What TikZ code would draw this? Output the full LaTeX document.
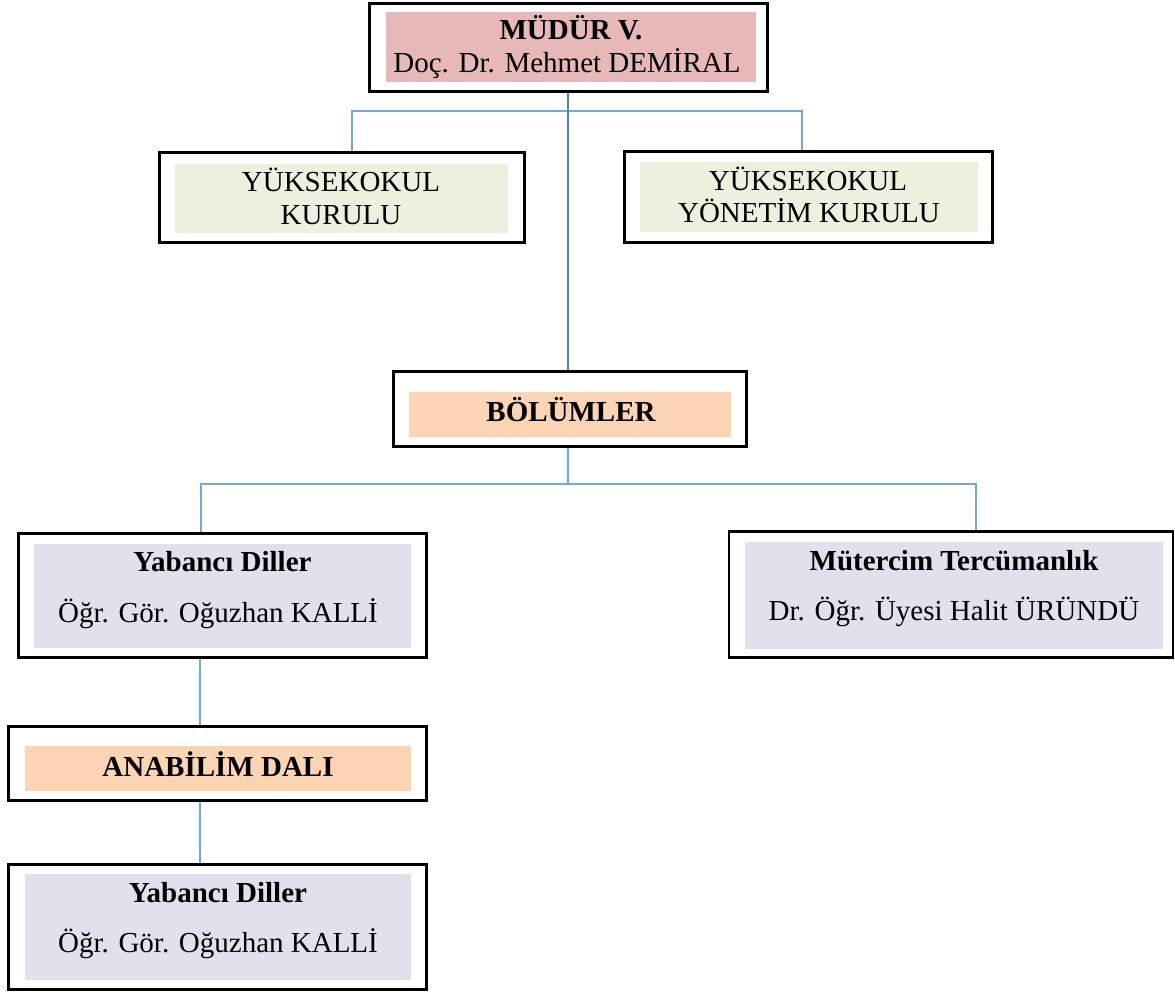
\documentclass[tikz,border=0pt]{standalone}
\usepackage{fontspec}
\setmainfont{Liberation Serif}
\definecolor{pinkf}{HTML}{E6B8B7}
\definecolor{greenf}{HTML}{EBF1DE}
\definecolor{peachf}{HTML}{FBD4B4}
\definecolor{lavf}{HTML}{E4DFEC}
\definecolor{linkb}{HTML}{6FA8DC}
\definecolor{trunkb}{HTML}{4F81BD}
\tikzset{
  obox/.style={draw=black, line width=2.6pt, rectangle, inner sep=0pt},
  ibox/.style={draw=none, rectangle, inner sep=0pt},
  txt/.style={inner sep=0pt, anchor=base, font=\fontsize{29}{34}\selectfont},
  link/.style={draw=linkb, line width=1.3pt},
  trunk/.style={draw=trunkb, line width=1.8pt}
}
\begin{document}
\begin{tikzpicture}[x=1pt,y=-1pt]
\useasboundingbox (0,0) rectangle (1175,993);
% inner fills
\node[ibox, fill=pinkf, minimum width=370pt, minimum height=70pt] (mudin) at (571,47) {};
\node[ibox, fill=greenf, minimum width=333pt, minimum height=69pt] (ykin) at (341.5,198.5) {};
\node[ibox, fill=greenf, minimum width=338pt, minimum height=70pt] (yykin) at (809,197) {};
\node[ibox, fill=peachf, minimum width=322pt, minimum height=45pt] (bolin) at (570,414.5) {};
\node[ibox, fill=lavf, minimum width=377pt, minimum height=104pt] (ydin) at (222.5,596) {};
\node[ibox, fill=lavf, minimum width=418pt, minimum height=107pt] (mtin) at (954,595.5) {};
\node[ibox, fill=peachf, minimum width=386pt, minimum height=45pt] (anain) at (218,768.5) {};
\node[ibox, fill=lavf, minimum width=386pt, minimum height=106pt] (ydbin) at (218,927) {};
% outer boxes
\node[obox, minimum width=398pt, minimum height=88pt] (mud) at (568.5,47.5) {};
\node[obox, minimum width=365pt, minimum height=90pt] (yk) at (342,197.5) {};
\node[obox, minimum width=368pt, minimum height=91pt] (yyk) at (808.5,197) {};
\node[obox, minimum width=353pt, minimum height=75pt] (bol) at (570,409) {};
\node[obox, minimum width=408pt, minimum height=124pt] (yd) at (222.5,595.5) {};
\node[obox, minimum width=444pt, minimum height=126pt] (mt) at (951,594.5) {};
\node[obox, minimum width=418pt, minimum height=74pt] (ana) at (217.5,763.5) {};
\node[obox, minimum width=418pt, minimum height=125pt] (ydb) at (217.5,927) {};
% texts
\node[txt] (t1a) at (571,39) {\bfseries MÜDÜR V.};
\node[txt] (t1b) at (567,72) {Doç. Dr. Mehmet DEMİRAL};
\node[txt] (t2a) at (341,191) {YÜKSEKOKUL};
\node[txt] (t2b) at (341,224) {KURULU};
\node[txt] (t3a) at (808,190) {YÜKSEKOKUL};
\node[txt] (t3b) at (809,222) {YÖNETİM KURULU};
\node[txt] (t4) at (571,421) {\bfseries BÖLÜMLER};
\node[txt] (t5a) at (222.5,571) {\bfseries Yabancı Diller};
\node[txt] (t5b) at (218,622) {Öğr. Gör. Oğuzhan KALLİ};
\node[txt] (t6a) at (954,570) {\bfseries Mütercim Tercümanlık};
\node[txt] (t6b) at (954,620) {Dr. Öğr. Üyesi Halit ÜRÜNDÜ};
\node[txt] (t7) at (218,776) {\bfseries ANABİLİM DALI};
\node[txt] (t8a) at (218,902) {\bfseries Yabancı Diller};
\node[txt] (t8b) at (218,952) {Öğr. Gör. Oğuzhan KALLİ};
% connectors
\coordinate (busL) at (352,111);
\coordinate (busR) at (802,111);
\coordinate (bus2L) at (201,484);
\coordinate (bus2R) at (976,484);
\coordinate (bus2M) at (568,484);
\coordinate (vx) at (200,0);
\draw[link] (busL |- yk.north) -- (busL) -- (busR) -- (busR |- yyk.north);
\draw[trunk] (mud.south -| bus2M) -- (bol.north -| bus2M);
\draw[link] (bol.south -| bus2M) -- (bus2M);
\draw[link] (bus2L |- yd.north) -- (bus2L) -- (bus2R) -- (bus2R |- mt.north);
\draw[link] (yd.south -| vx) -- (ana.north -| vx);
\draw[link] (ana.south -| vx) -- (ydb.north -| vx);
\end{tikzpicture}
\end{document}
